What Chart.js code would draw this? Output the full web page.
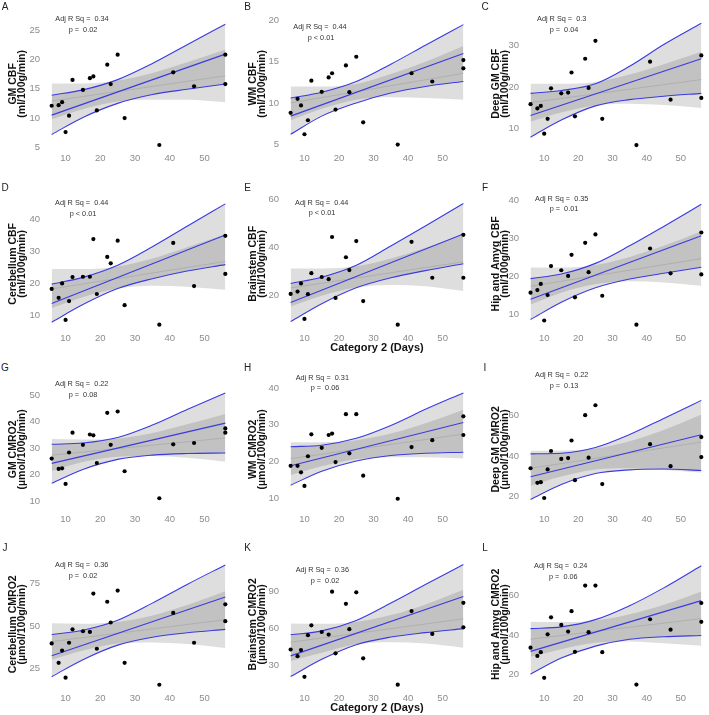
<!DOCTYPE html>
<html>
<head>
<meta charset="utf-8">
<script src="https://cdn.jsdelivr.net/npm/chart.js@4.4.0/dist/chart.umd.min.js"></script>
<style>
  html, body { margin: 0; padding: 0; background: #fff; }
  body { width: 709px; height: 715px; position: relative; overflow: hidden; font-family: "Liberation Sans", Arial, sans-serif; }
  canvas { position: absolute; }
  .letter { position: absolute; font-size: 10px; color: #222; transform: translate(-50%, -50%); }
  .ann { position: absolute; font-size: 7.3px; color: #333; white-space: pre; transform: translate(-50%, -50%); }
</style>
</head>
<body>
<script>
/* x values shared by every panel (days) */
var days = [6, 8, 9, 10, 11, 12, 15, 17, 18, 19, 22, 23, 25, 27, 37, 41, 47, 56, 56];
var bandDays = [6, 15, 25, 35, 45, 56];   // where the ribbons were read
var lineDays = [6, 56];                   // fitted straight lines
var xTicks = [10, 20, 30, 40, 50];

/* A - GM CBF */
var gmCbf = [12.1, 12.2, 12.7, 7.6, 10.4, 16.5, 14.8, 16.8, 17.1, 11.3, 19.1, 15.8, 20.8, 10.0, 5.4, 17.8, 15.4, 20.8, 15.8];
var gmCbfFit = [10.5, 20.9];
var gmCbfHi = [13.9, 14.8, 16.55, 19.3, 22.5, 26.0];
var gmCbfLo = [7.2, 10.1, 12.5, 14.0, 14.9, 15.8];
var gmCbfAlt = [12.9, 17.2];
var gmCbfAltHi = [15.9, 15.9, 16.4, 17.7, 19.5, 21.7];
var gmCbfAltLo = [9.8, 11.5, 12.8, 13.1, 13.1, 12.7];

/* B - WM CBF */
var wmCbf = [8.8, 10.5, 9.7, 6.2, 7.9, 12.7, 11.35, 13.1, 13.6, 9.2, 14.55, 11.3, 15.6, 7.65, 4.95, 13.6, 12.6, 15.2, 14.2];
var wmCbfFit = [8.4, 16.0];
var wmCbfHi = [10.6, 11.3, 12.6, 14.7, 17.0, 19.5];
var wmCbfLo = [6.2, 8.4, 10.0, 11.2, 12.0, 12.6];
var wmCbfAlt = [10.0, 13.6];
var wmCbfAltHi = [12.0, 12.0, 12.3, 13.5, 15.0, 16.9];
var wmCbfAltLo = [7.9, 9.3, 10.4, 10.7, 10.6, 10.4];

/* C - Deep GM CBF */
var deepCbf = [15.9, 14.9, 15.5, 8.85, 12.4, 19.7, 18.5, 18.7, 23.5, 13.0, 26.8, 19.8, 31.1, 12.4, 6.1, 26.1, 17.0, 27.6, 17.4];
var deepCbfFit = [13.2, 26.8];
var deepCbfHi = [18.5, 19.2, 20.8, 25.0, 30.2, 35.3];
var deepCbfLo = [8.0, 12.1, 15.5, 17.0, 17.8, 18.5];
var deepCbfAlt = [16.3, 21.8];
var deepCbfAltHi = [20.8, 20.8, 21.2, 23.0, 25.5, 28.5];
var deepCbfAltLo = [11.7, 13.9, 15.6, 16.0, 15.7, 15.0];

/* D - Cerebellum CBF */
var cereCbf = [18.4, 15.6, 20.1, 8.7, 14.6, 22.1, 22.2, 22.2, 34.0, 16.8, 28.4, 26.4, 33.5, 13.3, 7.2, 32.8, 19.3, 35.0, 23.1];
var cereCbfFit = [13.8, 35.3];
var cereCbfHi = [19.9, 22.0, 25.8, 31.6, 38.0, 45.0];
var cereCbfLo = [8.0, 13.5, 18.5, 21.6, 24.0, 26.0];
var cereCbfAlt = [18.4, 27.0];
var cereCbfAltHi = [24.6, 24.6, 25.4, 27.9, 31.4, 35.5];
var cereCbfAltLo = [12.4, 15.8, 18.5, 19.4, 19.1, 18.1];

/* E - Brainstem CBF */
var stemCbf = [20.5, 21.5, 24.9, 10.0, 20.4, 29.2, 27.6, 26.7, 44.4, 18.8, 35.9, 30.5, 42.7, 17.5, 7.6, 42.4, 27.3, 45.3, 27.3];
var stemCbfFit = [16.9, 45.7];
var stemCbfHi = [24.9, 27.5, 32.5, 40.6, 49.0, 58.5];
var stemCbfLo = [8.9, 16.4, 23.1, 27.3, 30.3, 33.2];
var stemCbfAlt = [23.0, 34.0];
var stemCbfAltHi = [31.2, 31.2, 32.1, 35.4, 39.9, 45.5];
var stemCbfAltLo = [15.2, 19.7, 23.2, 24.3, 23.7, 21.7];

/* F - Hip and Amyg CBF */
var hipCbf = [15.8, 16.5, 18.1, 8.5, 15.2, 22.8, 21.7, 20.2, 25.75, 14.6, 28.9, 21.2, 31.1, 15.0, 7.4, 27.4, 20.9, 31.6, 20.6];
var hipCbfFit = [14.1, 30.75];
var hipCbfHi = [19.5, 20.7, 23.5, 28.1, 33.2, 39.0];
var hipCbfLo = [8.75, 13.3, 17.1, 19.4, 20.9, 22.5];
var hipCbfAlt = [17.5, 24.75];
var hipCbfAltHi = [22.4, 22.4, 23.1, 25.2, 28.1, 31.9];
var hipCbfAltLo = [12.7, 15.8, 18.0, 18.8, 18.5, 17.6];

/* G - GM CMRO2 */
var gmCmro = [26.0, 22.1, 22.3, 16.4, 28.3, 35.8, 31.2, 35.1, 34.8, 24.3, 43.3, 31.2, 43.8, 21.2, 11.0, 31.4, 31.9, 37.4, 35.8];
var gmCmroFit = [24.2, 39.4];
var gmCmroHi = [31.4, 31.9, 34.0, 38.7, 44.6, 50.8];
var gmCmroLo = [16.7, 21.9, 25.7, 27.3, 27.9, 28.1];
var gmCmroAlt = [27.3, 33.8];
var gmCmroAltHi = [33.4, 33.2, 33.6, 35.7, 39.0, 42.9];
var gmCmroAltLo = [21.2, 24.7, 26.7, 27.0, 26.3, 24.8];

/* H - WM CMRO2 */
var wmCmro = [18.8, 18.8, 17.0, 13.3, 21.4, 27.4, 23.7, 27.2, 27.6, 19.8, 32.9, 22.2, 32.9, 16.1, 9.8, 23.9, 25.8, 32.3, 27.2];
var wmCmroFit = [18.8, 30.6];
var wmCmroHi = [24.0, 24.4, 26.3, 29.8, 34.2, 38.7];
var wmCmroLo = [13.5, 17.3, 20.1, 21.6, 22.2, 22.5];
var wmCmroAlt = [20.75, 27.45];
var wmCmroAltHi = [25.2, 25.25, 25.8, 27.6, 30.4, 34.1];
var wmCmroAltLo = [16.3, 18.65, 20.6, 21.15, 21.1, 20.8];

/* I - Deep GM CMRO2 (no value visible at day 37) */
var deepCmro = [34.1, 26.9, 27.2, 19.4, 33.5, 42.6, 38.7, 39.1, 47.8, 28.2, 60.3, 39.3, 65.2, 26.3, null, 46.0, 35.1, 49.5, 39.6];
var deepCmroFit = [29.9, 50.6];
var deepCmroHi = [41.2, 41.5, 44.3, 50.7, 58.7, 67.6];
var deepCmroLo = [18.7, 26.1, 31.5, 33.3, 33.7, 33.0];
var deepCmroAlt = [34.1, 47.0];
var deepCmroAltHi = [42.7, 42.8, 43.8, 47.4, 53.0, 60.6];
var deepCmroAltLo = [25.5, 30.0, 33.5, 34.1, 33.2, 32.0];

/* J - Cerebellum CMRO2 */
var cereCmro = [39.8, 28.5, 35.6, 19.8, 40.2, 48.0, 46.9, 46.5, 68.9, 36.7, 64.1, 52.0, 70.6, 28.5, 15.7, 57.6, 40.2, 62.6, 52.8];
var cereCmroFit = [32.6, 66.9];
var cereCmroHi = [45.0, 47.5, 53.3, 63.3, 74.2, 85.6];
var cereCmroLo = [20.4, 30.3, 38.8, 43.4, 46.0, 48.0];
var cereCmroAlt = [40.85, 53.65];
var cereCmroAltHi = [51.5, 51.3, 52.3, 56.1, 62.2, 70.2];
var cereCmroAltLo = [30.2, 35.6, 39.7, 40.4, 39.4, 37.1];

/* K - Brainstem CMRO2 */
var stemCmro = [43.1, 37.7, 42.6, 20.9, 54.7, 62.7, 57.3, 55.2, 90.0, 40.0, 80.2, 59.6, 89.5, 35.9, 14.5, 74.3, 55.7, 81.0, 61.1];
var stemCmroFit = [37.9, 86.1];
var stemCmroHi = [55.0, 58.2, 66.7, 80.8, 95.8, 112.0];
var stemCmroLo = [21.1, 35.1, 47.0, 53.2, 56.8, 60.0];
var stemCmroAlt = [49.0, 68.0];
var stemCmroAltHi = [64.2, 64.0, 65.5, 71.0, 79.7, 91.6];
var stemCmroAltLo = [33.8, 40.5, 47.4, 49.0, 47.9, 44.5];

/* L - Hip and Amyg CMRO2 */
var hipCmro = [33.5, 29.3, 31.2, 18.1, 40.3, 49.0, 45.1, 41.7, 52.1, 31.4, 65.2, 41.4, 65.2, 31.2, 14.7, 48.0, 42.7, 56.3, 46.7];
var hipCmroFit = [31.6, 57.5];
var hipCmroHi = [43.2, 44.1, 47.8, 54.9, 64.0, 75.3];
var hipCmroLo = [20.0, 28.2, 34.3, 37.8, 39.1, 39.7];
var hipCmroAlt = [37.8, 48.35];
var hipCmroAltHi = [46.7, 46.55, 47.3, 50.5, 55.35, 62.2];
var hipCmroAltLo = [28.9, 32.75, 36.0, 36.7, 35.7, 34.5];

var CBF_UNIT = '(ml/100g/min)';
var CMRO_UNIT = '(\u00b5mol/100g/min)';

var panels = [
  { letter: 'A', row: 0, col: 0, name: 'GM CBF', unit: CBF_UNIT, y: gmCbf, fit: gmCbfFit, hi: gmCbfHi, lo: gmCbfLo, alt: gmCbfAlt, altHi: gmCbfAltHi, altLo: gmCbfAltLo, yTicks: [5, 10, 15, 20, 25], yMin: 4.38, yMax: 27.28, r2: '0.34', p: 'p =  0.02', ann: [82, 18, 83, 29] },
  { letter: 'B', row: 0, col: 1, name: 'WM CBF', unit: CBF_UNIT, y: wmCbf, fit: wmCbfFit, hi: wmCbfHi, lo: wmCbfLo, alt: wmCbfAlt, altHi: wmCbfAltHi, altLo: wmCbfAltLo, yTicks: [5, 10, 15, 20], yMin: 4.17, yMax: 20.46, r2: '0.44', p: 'p < 0.01', ann: [320, 25.7, 321, 36.7] },
  { letter: 'C', row: 0, col: 2, name: 'Deep GM CBF', unit: CBF_UNIT, y: deepCbf, fit: deepCbfFit, hi: deepCbfHi, lo: deepCbfLo, alt: deepCbfAlt, altHi: deepCbfAltHi, altLo: deepCbfAltLo, yTicks: [10, 20, 30], yMin: 4.69, yMax: 36.87, r2: '0.3', p: 'p =  0.04', ann: [561.7, 18.3, 564, 29.3] },
  { letter: 'D', row: 1, col: 0, name: 'Cerebellum CBF', unit: CBF_UNIT, y: cereCbf, fit: cereCbfFit, hi: cereCbfHi, lo: cereCbfLo, alt: cereCbfAlt, altHi: cereCbfAltHi, altLo: cereCbfAltLo, yTicks: [10, 20, 30, 40], yMin: 5.23, yMax: 47.25, r2: '0.44', p: 'p < 0.01', ann: [81.7, 202.3, 83, 213.3] },
  { letter: 'E', row: 1, col: 1, name: 'Brainstem CBF', unit: CBF_UNIT, y: stemCbf, fit: stemCbfFit, hi: stemCbfHi, lo: stemCbfLo, alt: stemCbfAlt, altHi: stemCbfAltHi, altLo: stemCbfAltLo, yTicks: [20, 40, 60], yMin: 4.93, yMax: 61.33, r2: '0.44', p: 'p < 0.01', ann: [321.7, 201.7, 322, 212.3], xTitle: true },
  { letter: 'F', row: 1, col: 2, name: 'Hip and Amyg CBF', unit: CBF_UNIT, y: hipCbf, fit: hipCbfFit, hi: hipCbfHi, lo: hipCbfLo, alt: hipCbfAlt, altHi: hipCbfAltHi, altLo: hipCbfAltLo, yTicks: [10, 20, 30, 40], yMin: 5.75, yMax: 41.0, r2: '0.35', p: 'p =  0.01', ann: [561.7, 197.7, 564, 208.3] },
  { letter: 'G', row: 2, col: 0, name: 'GM CMRO2', unit: CMRO_UNIT, y: gmCmro, fit: gmCmroFit, hi: gmCmroHi, lo: gmCmroLo, alt: gmCmroAlt, altHi: gmCmroAltHi, altLo: gmCmroAltLo, yTicks: [10, 20, 30, 40, 50], yMin: 5.8, yMax: 53.18, r2: '0.22', p: 'p =  0.08', ann: [81.7, 383.3, 83, 394.3] },
  { letter: 'H', row: 2, col: 1, name: 'WM CMRO2', unit: CMRO_UNIT, y: wmCmro, fit: wmCmroFit, hi: wmCmroHi, lo: wmCmroLo, alt: wmCmroAlt, altHi: wmCmroAltHi, altLo: wmCmroAltLo, yTicks: [10, 20, 30, 40], yMin: 6.18, yMax: 40.39, r2: '0.31', p: 'p =  0.06', ann: [322.3, 376.7, 325, 387.3] },
  { letter: 'I', row: 2, col: 2, name: 'Deep GM CMRO2', unit: CMRO_UNIT, y: deepCmro, fit: deepCmroFit, hi: deepCmroHi, lo: deepCmroLo, alt: deepCmroAlt, altHi: deepCmroAltHi, altLo: deepCmroAltLo, yTicks: [20, 40, 60], yMin: 12.5, yMax: 74.35, r2: '0.22', p: 'p =  0.13', ann: [561.7, 374.3, 564, 385] },
  { letter: 'J', row: 3, col: 0, name: 'Cerebellum CMRO2', unit: CMRO_UNIT, y: cereCmro, fit: cereCmroFit, hi: cereCmroHi, lo: cereCmroLo, alt: cereCmroAlt, altHi: cereCmroAltHi, altLo: cereCmroAltLo, yTicks: [25, 50, 75], yMin: 12.04, yMax: 89.8, r2: '0.36', p: 'p =  0.02', ann: [81.7, 564, 83, 575] },
  { letter: 'K', row: 3, col: 1, name: 'Brainstem CMRO2', unit: CMRO_UNIT, y: stemCmro, fit: stemCmroFit, hi: stemCmroHi, lo: stemCmroLo, alt: stemCmroAlt, altHi: stemCmroAltHi, altLo: stemCmroAltLo, yTicks: [30, 60, 90], yMin: 9.4, yMax: 117.6, r2: '0.36', p: 'p =  0.02', ann: [322.3, 569.3, 325, 580], xTitle: true },
  { letter: 'L', row: 3, col: 2, name: 'Hip and Amyg CMRO2', unit: CMRO_UNIT, y: hipCmro, fit: hipCmroFit, hi: hipCmroHi, lo: hipCmroLo, alt: hipCmroAlt, altHi: hipCmroAltHi, altLo: hipCmroAltLo, yTicks: [20, 40, 60], yMin: 11.4, yMax: 79.4, r2: '0.24', p: 'p =  0.06', ann: [560.7, 565, 563.3, 576] }
];

/* page geometry of the plotting areas */
var colBox = [ { left: 43.25, right: 235.75, xMax: 58.5, title: 30 },
               { left: 282.4, right: 473.9, xMax: 58.5, title: 29 },
               { left: 522.4, right: 709, xMax: 57.08, title: 26 } ];
var rowBox = [ { top: 10, bottom: 150.5 }, { top: 190, bottom: 331 },
               { top: 379.5, bottom: 511 }, { top: 551, bottom: 691 } ];
var letterX = [5, 247.7, 485];
var letterY = [6, 186.7, 366.7, 546.7];

var BLUE = '#3a3adf';
var BAND = 'rgba(0,0,0,0.13)';
var TICK = '#8c8c8c';
var Y_AXIS_W = 44;
var FONT = '"Liberation Sans", Arial, sans-serif';

function pairs(xs, ys) {
  var out = [];
  for (var i = 0; i < xs.length; i++) if (ys[i] != null) out.push({ x: xs[i], y: ys[i] });
  return out;
}

function addText(cls, txt, x, y) {
  var d = document.createElement('div');
  d.className = cls;
  d.textContent = txt;
  d.style.left = x + 'px';
  d.style.top = y + 'px';
  document.body.appendChild(d);
}

panels.forEach(function (p) {
  var cb = colBox[p.col], rb = rowBox[p.row];
  var xH = p.xTitle ? 23 : 16;
  var cl = cb.left - Y_AXIS_W, ct = rb.top - 2;
  var cw = Math.ceil(cb.right - cl + (p.col === 2 ? 0 : 2));
  var ch = Math.ceil(rb.bottom - ct + xH);
  var cv = document.createElement('canvas');
  cv.width = cw; cv.height = ch;
  cv.style.left = cl + 'px'; cv.style.top = ct + 'px';
  cv.style.width = cw + 'px'; cv.style.height = ch + 'px';
  document.body.appendChild(cv);

  var titleFont = { family: FONT, size: 10.5, weight: 'bold', lineHeight: 0.9 };
  var titlePad = Y_AXIS_W - cb.title - 10.5 * 0.9 / 2;

  new Chart(cv, {
    type: 'line',
    data: {
      datasets: [
        { data: pairs(days, p.y), showLine: false, pointRadius: 2.1, pointBackgroundColor: '#000', pointBorderWidth: 0, order: 0 },
        { data: pairs(lineDays, p.fit), borderColor: BLUE, borderWidth: 1.1, pointRadius: 0, order: 1 },
        { data: pairs(bandDays, p.lo), borderColor: BLUE, borderWidth: 1.1, pointRadius: 0, cubicInterpolationMode: 'monotone', order: 2 },
        { data: pairs(bandDays, p.hi), borderColor: BLUE, borderWidth: 1.1, pointRadius: 0, cubicInterpolationMode: 'monotone', fill: '-1', backgroundColor: BAND, order: 2 },
        { data: pairs(lineDays, p.alt), borderColor: '#a3a3a3', borderWidth: 0.6, pointRadius: 0, order: 3 },
        { data: pairs(bandDays, p.altLo), borderWidth: 0, borderColor: 'rgba(0,0,0,0)', pointRadius: 0, cubicInterpolationMode: 'monotone', order: 4 },
        { data: pairs(bandDays, p.altHi), borderWidth: 0, borderColor: 'rgba(0,0,0,0)', pointRadius: 0, cubicInterpolationMode: 'monotone', fill: '-1', backgroundColor: BAND, order: 4 }
      ]
    },
    options: {
      responsive: false, animation: false, events: [], devicePixelRatio: 1,
      layout: { padding: { left: 0, top: 2, right: (p.col === 2 ? 0 : 2), bottom: 0 } },
      plugins: { legend: { display: false }, tooltip: { enabled: false }, filler: { drawTime: 'beforeDatasetsDraw' } },
      scales: {
        x: {
          type: 'linear', min: 3.5, max: cb.xMax,
          grid: { display: false, drawTicks: false }, border: { display: false },
          afterBuildTicks: function (s) { s.ticks = xTicks.map(function (v) { return { value: v }; }); },
          afterFit: function (s) { s.height = xH; },
          ticks: { color: TICK, padding: 2, maxRotation: 0, font: { family: FONT, size: 9.5 } },
          title: { display: !!p.xTitle, text: 'Category 2 (Days)', color: '#111', padding: 0,
                   font: { family: FONT, size: 11, weight: 'bold', lineHeight: 1.1 } }
        },
        y: {
          type: 'linear', min: p.yMin, max: p.yMax,
          grid: { display: false, drawTicks: false }, border: { display: false },
          afterBuildTicks: function (s) { s.ticks = p.yTicks.map(function (v) { return { value: v }; }); },
          afterFit: function (s) { s.width = Y_AXIS_W; },
          ticks: { color: TICK, padding: 3, font: { family: FONT, size: 9.5 } },
          title: { display: true, text: [p.name, p.unit], color: '#111', padding: { top: titlePad, bottom: 0 }, font: titleFont }
        }
      }
    }
  });

  addText('letter', p.letter, letterX[p.col], letterY[p.row]);
  addText('ann', 'Adj R Sq =  ' + p.r2, p.ann[0], p.ann[1]);
  addText('ann', p.p, p.ann[2], p.ann[3]);
});
</script>
</body>
</html>
